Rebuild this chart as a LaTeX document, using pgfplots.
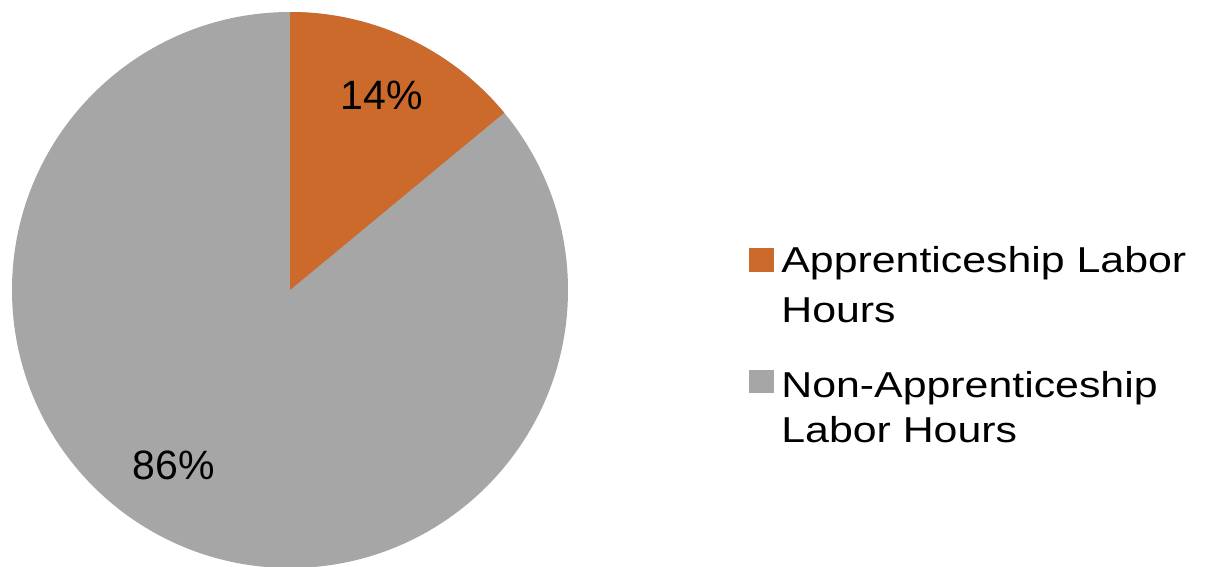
\documentclass[border=0pt]{standalone}
\usepackage{pgfplots}
\pgfplotsset{compat=1.18}
\usepackage{pgfplotstable}
\usepackage{fontspec}
\setmainfont{Liberation Sans}
\newfontfamily\legfont[FakeStretch=1.19]{Liberation Sans}
\definecolor{appr}{HTML}{CC6A2C}
\definecolor{nonappr}{HTML}{A6A6A6}
\pgfplotstableread{
label value
Apprenticeship 14
NonApprenticeship 86
}\piedata
\begin{document}
\begin{tikzpicture}
\path[use as bounding box] (0,0) rectangle (603.5pt,-283.5pt);
\pgfplotstablegetelem{0}{value}\of\piedata
\pgfmathsetmacro\va{\pgfplotsretval}
\pgfmathsetmacro\angA{90-3.6*\va}
\begin{axis}[
  at={(145pt,-145pt)}, anchor=center,
  scale only axis, width=278pt, height=278pt,
  xmin=-1, xmax=1, ymin=-1, ymax=1,
  hide axis, clip=false,
]
\fill[nonappr] (axis cs:0,0) circle[radius=1];
\fill[appr] (axis cs:0,0) -- (axis cs:0,1) arc[start angle=90, end angle=\angA, radius=1] -- cycle;
\node[font=\fontsize{20.5pt}{24pt}\selectfont] at (axis cs:0.331,0.701) {14\%};
\node[font=\fontsize{20.5pt}{24pt}\selectfont] at (axis cs:-0.419,-0.631) {86\%};
\end{axis}
\fill[appr] (374.5pt,-124pt) rectangle (387pt,-136pt);
\fill[nonappr] (374.5pt,-185pt) rectangle (387pt,-196.5pt);
\begin{scope}[every node/.style={anchor=base west, inner sep=0pt, font=\legfont\fontsize{18pt}{22pt}\selectfont}]
\node at (390.5pt,-136.5pt) {Apprenticeship Labor};
\node at (390.5pt,-161pt) {Hours};
\node at (390.5pt,-198.5pt) {Non-Apprenticeship};
\node at (390.5pt,-221.5pt) {Labor Hours};
\end{scope}
\end{tikzpicture}
\end{document}
